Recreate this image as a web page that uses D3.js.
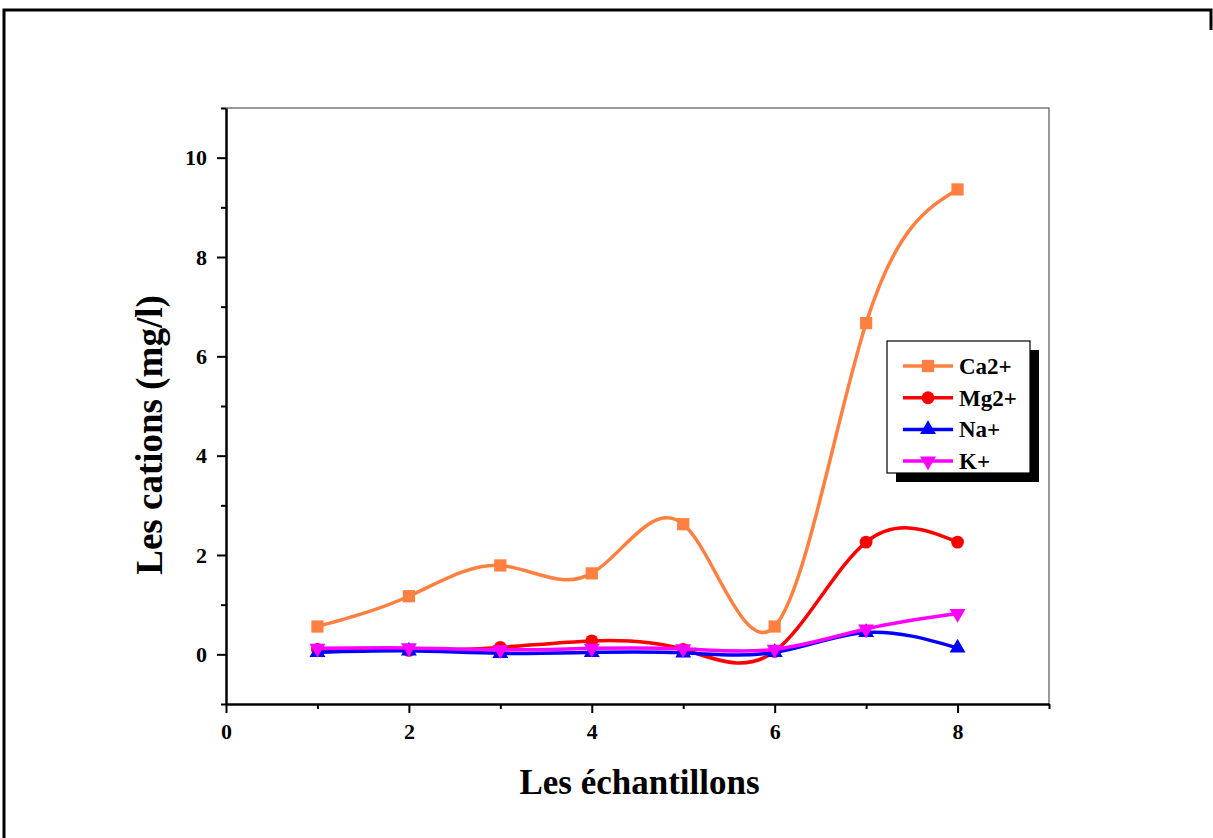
<!DOCTYPE html>
<html>
<head>
<meta charset="utf-8">
<script src="https://cdn.jsdelivr.net/npm/d3@7"></script>
<style>
  body { margin: 0; background: #fff; }
  svg { display: block; font-family: "Liberation Serif", "Times New Roman", serif; }
</style>
</head>
<body>
<svg width="1213" height="838"></svg>
<script>
(function(d3) {
    "use strict";

    // data
    var samples = [1, 2, 3, 4, 5, 6, 7, 8],
        ca = [0.56, 1.17, 1.79, 1.63, 2.62, 0.56, 6.67, 9.36],
        mg = [0.10, 0.08, 0.14, 0.27, 0.10, 0.06, 2.26, 2.26],
        na = [0.04, 0.07, 0.02, 0.04, 0.03, 0.04, 0.44, 0.13],
        k = [0.12, 0.13, 0.09, 0.12, 0.11, 0.10, 0.51, 0.82],
        seriesNames = ["Ca2+", "Mg2+", "Na+", "K+"],
        xMajor = [0, 2, 4, 6, 8],
        xMinor = [1, 3, 5, 7, 9],
        yMajor = [0, 2, 4, 6, 8, 10],
        yMinor = [-1, 1, 3, 5, 7, 9, 11];

    var series = [
        { name: seriesNames[0], values: ca, color: "#ff8040", symbol: d3.symbolSquare, size: 150, rot: 0 },
        { name: seriesNames[1], values: mg, color: "#ff0000", symbol: d3.symbolCircle, size: 130, rot: 0 },
        { name: seriesNames[2], values: na, color: "#0000ff", symbol: d3.symbolTriangle, size: 110, rot: 0 },
        { name: seriesNames[3], values: k, color: "#ff00ff", symbol: d3.symbolTriangle, size: 110, rot: 180 }
    ];

    var svg = d3.select("svg"),
        left = 226, right = 1049, top = 108, bottom = 704,
        x = d3.scaleLinear().domain([0, 9]).range([left, right]),
        y = d3.scaleLinear().domain([-1, 11]).range([bottom, top]);

    // outer frame
    svg.append("path")
        .attr("d", "M4,838 V10 H1211 V30")
        .attr("fill", "none").attr("stroke", "#000").attr("stroke-width", 3);

    // top and right frame of plot
    svg.append("path")
        .attr("d", "M" + left + "," + top + " H" + right + " V" + bottom)
        .attr("fill", "none").attr("stroke", "#777").attr("stroke-width", 1.5);

    // axes
    function styleAxis(g) {
        g.style("font-family", "'Liberation Serif', serif").style("font-size", "22px").style("font-weight", "bold");
        g.selectAll("path.domain").attr("stroke-width", 2.5);
        g.selectAll(".tick line").attr("stroke-width", 2);
        g.selectAll("text").attr("fill", "#000");
    }

    svg.append("g").attr("transform", "translate(0," + bottom + ")")
        .call(d3.axisBottom(x).tickValues(xMinor).tickSize(5).tickFormat(""))
        .call(function(g) { g.select(".domain").remove(); g.selectAll(".tick line").attr("stroke-width", 2); });
    svg.append("g").attr("transform", "translate(0," + bottom + ")")
        .call(d3.axisBottom(x).tickValues(xMajor).tickSize(9).tickSizeOuter(0).tickPadding(10).tickFormat(d3.format("d")))
        .call(styleAxis);

    svg.append("g").attr("transform", "translate(" + left + ",0)")
        .call(d3.axisLeft(y).tickValues(yMinor).tickSize(5).tickFormat(""))
        .call(function(g) { g.select(".domain").remove(); g.selectAll(".tick line").attr("stroke-width", 2); });
    svg.append("g").attr("transform", "translate(" + left + ",0)")
        .call(d3.axisLeft(y).tickValues(yMajor).tickSize(9).tickSizeOuter(0).tickPadding(10).tickFormat(d3.format("d")))
        .call(styleAxis);

    // axis titles
    svg.append("text")
        .attr("x", (left + right) / 2 + 2).attr("y", 794)
        .attr("text-anchor", "middle").attr("font-weight", "bold").attr("font-size", 35)
        .text("Les échantillons");

    svg.append("text")
        .attr("transform", "translate(162," + 435 + ") rotate(-90)")
        .attr("text-anchor", "middle").attr("font-weight", "bold").attr("font-size", 37)
        .text("Les cations (mg/l)");

    // series
    var line = d3.line()
        .x(function(d, i) { return x(samples[i]); })
        .y(function(d) { return y(d); })
        .curve(d3.curveNatural);

    var plot = svg.append("g");
    series.forEach(function(s) {
        var g = plot.append("g");
        g.append("path")
            .attr("d", line(s.values))
            .attr("fill", "none").attr("stroke", s.color).attr("stroke-width", 3.5);
        g.selectAll("path.mark").data(s.values).enter().append("path")
            .attr("class", "mark")
            .attr("d", d3.symbol().type(s.symbol).size(s.size))
            .attr("transform", function(d, i) {
                return "translate(" + x(samples[i]) + "," + y(d) + ") rotate(" + s.rot + ")";
            })
            .attr("fill", s.color);
    });

    // legend
    var lx = 887, ly = 341, lw = 143, lh = 132;
    var legend = svg.append("g");
    legend.append("rect").attr("x", lx + 9).attr("y", ly + 9).attr("width", lw).attr("height", lh).attr("fill", "#000");
    legend.append("rect").attr("x", lx).attr("y", ly).attr("width", lw).attr("height", lh)
        .attr("fill", "#fff").attr("stroke", "#000").attr("stroke-width", 1.2);

    var rows = legend.selectAll("g.row").data(series).enter().append("g")
        .attr("class", "row")
        .attr("transform", function(d, i) { return "translate(0," + (366 + i * 31.7) + ")"; });
    rows.append("line").attr("x1", 903).attr("x2", 953).attr("y1", 0).attr("y2", 0)
        .attr("stroke", function(d) { return d.color; }).attr("stroke-width", 3.5);
    rows.append("path")
        .attr("d", function(d) { return d3.symbol().type(d.symbol).size(d.size)(); })
        .attr("transform", function(d) { return "translate(928,0) rotate(" + d.rot + ")"; })
        .attr("fill", function(d) { return d.color; });
    rows.append("text").attr("x", 959).attr("y", 8)
        .attr("font-weight", "bold").attr("font-size", 23)
        .text(function(d) { return d.name; });

}(d3));
</script>
</body>
</html>
